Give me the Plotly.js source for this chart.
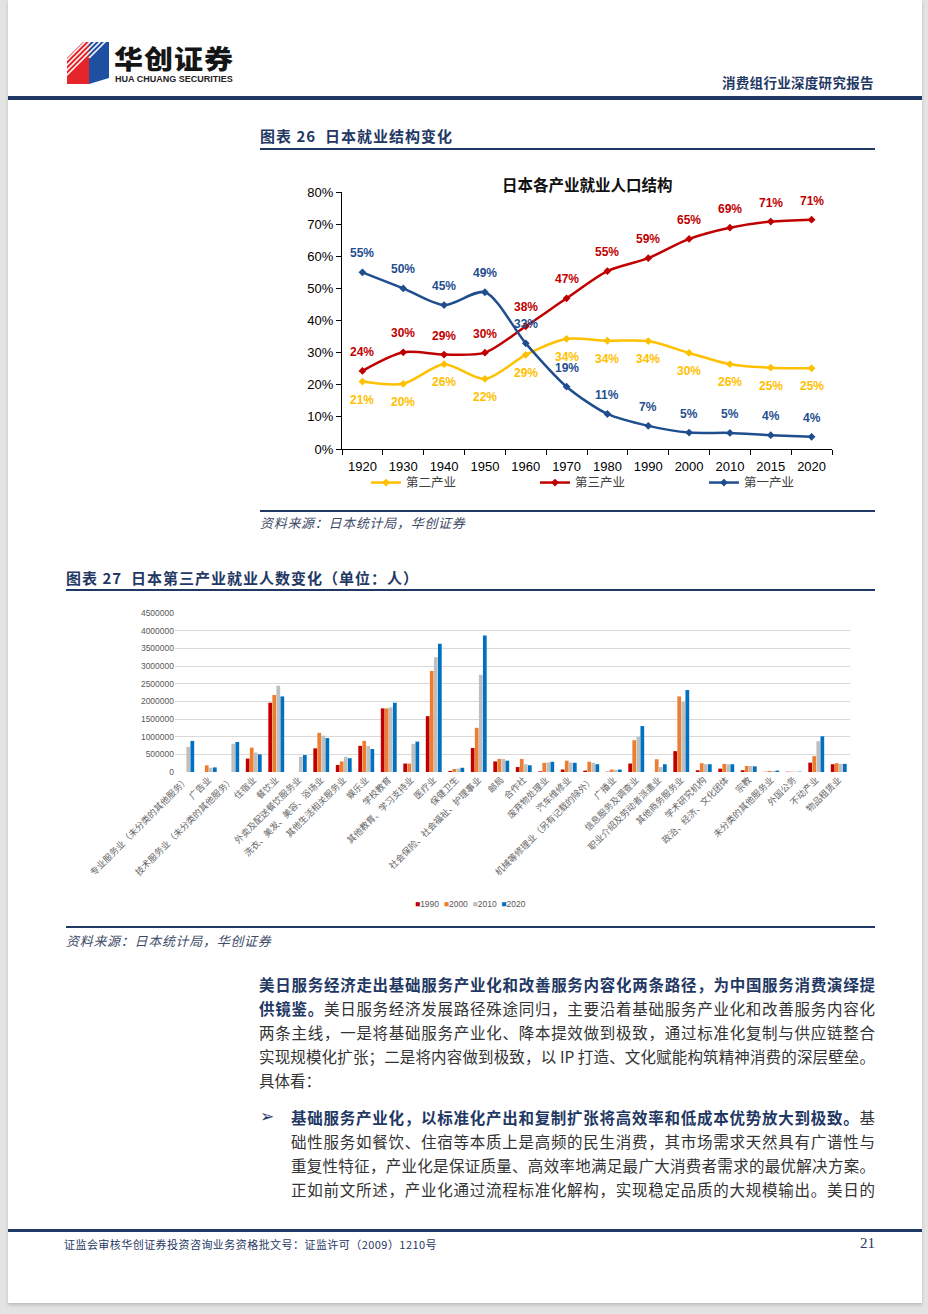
<!DOCTYPE html>
<html><head><meta charset="utf-8">
<script src="https://cdn.plot.ly/plotly-3.0.1.min.js"></script>
<style>
html,body{margin:0;padding:0;}
body{width:928px;height:1314px;background:#e3e3e3;position:relative;overflow:hidden;font-family:"Noto Sans CJK SC","Noto Sans",sans-serif;}
#page{position:absolute;left:8px;top:0;width:914px;height:1303px;background:#fff;box-shadow:0 2px 3px rgba(0,0,0,0.18);}
.abs{position:absolute;white-space:nowrap;}
.rule{position:absolute;background:#1F3864;}
.ttl{position:absolute;white-space:nowrap;font-size:15px;font-weight:700;color:#1F3864;letter-spacing:1px;line-height:20px;}
.src{position:absolute;white-space:nowrap;font-size:13px;font-style:italic;color:#3e4a66;letter-spacing:0.7px;line-height:18px;}
.ln{position:absolute;font-size:15.5px;line-height:24px;height:24px;color:#333;text-align:justify;text-align-last:justify;overflow:visible;}
.ln b{color:#1F3864;font-weight:700;}
</style></head>
<body>
<div id="page"></div>

<svg class="abs" style="left:60px;top:36px;" width="60" height="56" viewBox="0 0 60 56">
  <polygon points="7,22 23,6 29,6 29,48 7,48" fill="#E4262B"/>
  <polygon points="29,6 49,6 49,42 29,48" fill="#1E4FA0"/>
  <g stroke="#fff" stroke-width="1.6">
    <line x1="4" y1="27" x2="27" y2="4"/>
    <line x1="4" y1="32" x2="32" y2="4"/>
    <line x1="4" y1="37" x2="37" y2="4"/>
    <line x1="4" y1="42" x2="42" y2="4"/>
    <line x1="29" y1="22" x2="47" y2="4"/>
  </g>
</svg>
<div class="abs" style="left:114px;top:38px;font-size:29px;font-weight:900;color:#151515;letter-spacing:1px;line-height:38px;transform:scaleY(0.9);transform-origin:left center;">华创证券</div>
<div class="abs" style="left:115px;top:73px;font-family:'Liberation Sans',Arial,sans-serif;font-size:9px;font-weight:700;color:#222;line-height:12px;">HUA CHUANG SECURITIES</div>
<div class="abs" style="left:722px;top:73px;font-size:13.5px;font-weight:600;color:#1F3864;line-height:18px;letter-spacing:0.3px;">消费组行业深度研究报告</div>
<div class="rule" style="left:8px;top:96px;width:914px;height:3.5px;"></div>

<div class="ttl" style="left:260px;top:126px;">图表 26&nbsp; 日本就业结构变化</div>
<div class="rule" style="left:260px;top:148px;width:615px;height:2px;"></div>
<div id="chart1" class="abs" style="left:290px;top:165px;width:638px;height:354px;"></div>
<div class="rule" style="left:260px;top:510px;width:615px;height:2px;"></div>
<div class="src" style="left:260px;top:514px;">资料来源：日本统计局，华创证券</div>

<div class="ttl" style="left:66px;top:568px;">图表 27&nbsp; 日本第三产业就业人数变化（单位：人）</div>
<div class="rule" style="left:66px;top:589px;width:809px;height:2px;"></div>
<div id="chart2" class="abs" style="left:60px;top:600px;width:800px;height:320px;"></div>
<div class="rule" style="left:66px;top:926px;width:809px;height:2px;"></div>
<div class="src" style="left:66px;top:932px;">资料来源：日本统计局，华创证券</div>

<div class="ln" style="left:259px;top:972px;width:616px;"><b>美日服务经济走出基础服务产业化和改善服务内容化两条路径，为中国服务消费演绎提</b></div>
<div class="ln" style="left:259px;top:996px;width:616px;"><b>供镜鉴。</b>美日服务经济发展路径殊途同归，主要沿着基础服务产业化和改善服务内容化</div>
<div class="ln" style="left:259px;top:1020px;width:616px;">两条主线，一是将基础服务产业化、降本提效做到极致，通过标准化复制与供应链整合</div>
<div class="ln" style="left:259px;top:1044px;width:616px;">实现规模化扩张；二是将内容做到极致，以 IP 打造、文化赋能构筑精神消费的深层壁垒。</div>
<div class="ln" style="left:259px;top:1068px;width:200px;text-align:left;text-align-last:left;">具体看：</div>

<div class="abs" style="left:260px;top:1104px;font-family:'DejaVu Sans',sans-serif;font-size:17px;color:#1F3864;line-height:24px;">➢</div>
<div class="ln" style="left:291px;top:1105px;width:584px;"><b>基础服务产业化，以标准化产出和复制扩张将高效率和低成本优势放大到极致。</b>基</div>
<div class="ln" style="left:291px;top:1129px;width:584px;">础性服务如餐饮、住宿等本质上是高频的民生消费，其市场需求天然具有广谱性与</div>
<div class="ln" style="left:291px;top:1153px;width:584px;">重复性特征，产业化是保证质量、高效率地满足最广大消费者需求的最优解决方案。</div>
<div class="ln" style="left:291px;top:1177px;width:584px;">正如前文所述，产业化通过流程标准化解构，实现稳定品质的大规模输出。美日的</div>

<div class="rule" style="left:8px;top:1229px;width:914px;height:2.5px;"></div>
<div class="abs" style="left:64px;top:1235px;font-size:11px;color:#1F3864;letter-spacing:0.45px;line-height:18px;">证监会审核华创证券投资咨询业务资格批文号：证监许可（2009）1210号</div>
<div class="abs" style="left:860px;top:1233px;font-family:'Liberation Serif',serif;font-size:15px;color:#1F3864;line-height:20px;">21</div>

<script>
// ---------- Chart 1 data: 日本各产业就业人口结构 (%) ----------
const years = ['1920','1930','1940','1950','1960','1970','1980','1990','2000','2010','2015','2020'];
const secondary = [21.0, 20.3, 26.4, 21.8, 29.3, 34.3, 33.7, 33.6, 29.9, 26.4, 25.3, 25.1];
const tertiary  = [24.3, 30.1, 29.4, 30.0, 38.2, 46.9, 55.4, 59.4, 65.4, 68.9, 70.8, 71.4];
const primary   = [55.0, 50.0, 44.8, 48.8, 32.9, 19.4, 10.9, 7.2, 5.1, 5.0, 4.3, 3.8];
const c1Names = ['第二产业', '第三产业', '第一产业'];
const c1Title = '日本各产业就业人口结构';

// ---------- Chart 2 data: 日本第三产业就业人数变化 (人) ----------
const industries = [
  '专业服务业（未分类的其他服务）','广告业','技术服务业（未分类的其他服务）','住宿业','餐饮业',
  '外卖及配送餐饮服务业','洗衣、美发、美容、浴场业','其他生活相关服务业','娱乐业','学校教育',
  '其他教育、学习支持业','医疗业','保健卫生','社会保险、社会福祉、护理事业','邮局',
  '合作社','废弃物处理业','汽车维修业','机械等修理业（另有记载的除外）','广播业',
  '信息服务及调查业','职业介绍及劳动者派遣业','其他商务服务业','学术研究机构','政治、经济、文化团体',
  '宗教','未分类的其他服务业','外国公务','不动产业','物品租赁业'
];
const v1990 = [0,0,0,380000,1960000,0,670000,200000,740000,1800000,240000,1580000,30000,680000,300000,140000,20000,70000,40000,10000,240000,0,590000,50000,95000,50000,5000,8000,265000,220000];
const v2000 = [0,190000,0,690000,2180000,0,1110000,300000,880000,1800000,240000,2860000,85000,1250000,370000,370000,260000,320000,290000,70000,900000,360000,2140000,250000,230000,170000,30000,10000,450000,250000];
const v2010 = [710000,120000,800000,550000,2440000,430000,1030000,430000,740000,1830000,790000,3250000,95000,2750000,370000,220000,270000,270000,260000,60000,1000000,140000,1990000,220000,220000,170000,30000,10000,870000,230000];
const v2020 = [880000,130000,850000,500000,2140000,480000,960000,390000,650000,1960000,860000,3630000,120000,3860000,320000,190000,290000,260000,220000,70000,1300000,220000,2320000,220000,220000,160000,40000,10000,1010000,230000];
const c2Years = ['1990','2000','2010','2020'];

// ---------- styles ----------
const c1Colors = ['#FFC000', '#C00000', '#1F4E8F'];
const c2Colors = ['#C00000', '#ED7D31', '#BFBFBF', '#0070C0'];
const numFont = 'Liberation Sans, Arial, sans-serif';
const cjkFont = 'Noto Sans CJK SC, sans-serif';

// Chart 1
const c1Series = [secondary, tertiary, primary];
const c1Shift = [-18, 19, 19];
const traces1 = c1Series.map((ys, i) => ({
  type: 'scatter', mode: 'lines+markers', name: c1Names[i],
  x: years, y: ys,
  line: {color: c1Colors[i], width: 2.5, shape: 'spline', smoothing: 0.8},
  marker: {color: c1Colors[i], symbol: 'diamond', size: 6},
  hoverinfo: 'skip'
}));
const ann1 = [];
c1Series.forEach((ys, i) => {
  ys.forEach((v, j) => {
    ann1.push({x: j, y: v, xref: 'x', yref: 'y', text: Math.round(v) + '%', showarrow: false,
      yshift: c1Shift[i], font: {family: numFont, size: 12, color: c1Colors[i], weight: 700}});
  });
});
ann1.push({xref: 'paper', yref: 'paper', x: 0.5, y: 1.031, yanchor: 'middle', text: c1Title, showarrow: false,
  font: {family: cjkFont, size: 15.5, color: '#111', weight: 700}});

Plotly.newPlot('chart1', traces1, {
  width: 638, height: 354,
  margin: {l: 52, r: 96, t: 27, b: 70},
  paper_bgcolor: 'rgba(0,0,0,0)', plot_bgcolor: 'rgba(0,0,0,0)',
  showlegend: true,
  legend: {orientation: 'h', x: 1.0836, xanchor: 'right', y: -0.132, yanchor: 'middle',
    entrywidth: 124, entrywidthmode: 'pixels', font: {family: cjkFont, size: 12.5, color: '#404040'},
    bgcolor: 'rgba(0,0,0,0)', traceorder: 'normal'},
  xaxis: {type: 'category', range: [-0.5, years.length - 0.5], showline: true, linecolor: '#000', linewidth: 1,
    ticks: 'outside', tickson: 'boundaries', ticklen: 5, tickcolor: '#000', showgrid: false, zeroline: false,
    ticklabelstandoff: 5, tickfont: {family: numFont, size: 13, color: '#000'}},
  yaxis: {range: [0, 80], dtick: 10, ticksuffix: '%', showline: true, linecolor: '#000', linewidth: 1,
    ticks: 'outside', ticklen: 5, tickcolor: '#000', showgrid: false, zeroline: false,
    tickfont: {family: numFont, size: 13, color: '#000'}},
  annotations: ann1
}, {displayModeBar: false, staticPlot: true});

// Chart 2
const c2Series = [v1990, v2000, v2010, v2020];
const traces2 = c2Series.map((ys, i) => ({
  type: 'bar', name: c2Years[i], x: industries, y: ys,
  marker: {color: c2Colors[i]}, hoverinfo: 'skip'
}));
const legendText = c2Years.map((y, i) => '<span style="color:' + c2Colors[i] + '">■</span>' + y).join('&nbsp;&nbsp;');
const yTicks = [];
for (let v = 0; v <= 4500000; v += 500000) yTicks.push(v);

Plotly.newPlot('chart2', traces2, {
  width: 800, height: 320,
  margin: {l: 115, r: 10, t: 13, b: 148},
  paper_bgcolor: 'rgba(0,0,0,0)', plot_bgcolor: 'rgba(0,0,0,0)',
  barmode: 'group', bargap: 0.28, bargroupgap: 0.08,
  showlegend: false,
  xaxis: {type: 'category', tickangle: -45, showline: false, ticks: '', showgrid: false, zeroline: false,
    tickfont: {family: cjkFont, size: 9, color: '#666'}},
  yaxis: {range: [0, 4500000], tickvals: yTicks, ticktext: yTicks.map(String), showgrid: true,
    gridcolor: '#d9d9d9', gridwidth: 1, zeroline: false, showline: false, ticks: '',
    tickfont: {family: numFont, size: 8.5, color: '#595959'}},
  annotations: [{xref: 'paper', yref: 'paper', x: 0.4385, y: -0.829, yanchor: 'middle', showarrow: false,
    text: legendText, font: {family: numFont, size: 8.5, color: '#595959'}}]
}, {displayModeBar: false, staticPlot: true});
</script>
</body></html>
